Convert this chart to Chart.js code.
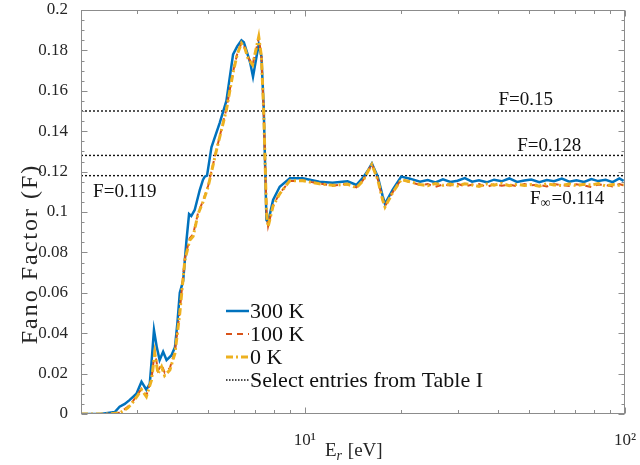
<!DOCTYPE html>
<html>
<head>
<meta charset="utf-8">
<script src="https://cdn.jsdelivr.net/npm/chart.js@4"></script>
<style>
  html, body { margin: 0; padding: 0; background: #fff; }
  #wrap { width: 640px; height: 465px; position: relative; }
</style>
</head>
<body>
<div id="wrap"><canvas id="fano"></canvas></div>
<script>
// recoil energy (eV) and Fano factor, 300 K
var e300 = [2.0, 2.3, 2.55, 2.64, 2.74, 2.84, 2.98, 3.09, 3.20, 3.28, 3.33, 3.38, 3.45, 3.52, 3.61, 3.70,
  3.83, 3.93, 4.00, 4.07, 4.17, 4.27, 4.35, 4.42, 4.53, 4.70, 4.81, 4.87, 4.95, 5.11, 5.42, 5.69,
  5.97, 6.15, 6.34, 6.45, 6.57, 6.75, 6.89, 7.05, 7.18, 7.32, 7.44, 7.59, 7.68, 7.96, 8.35, 8.98,
  9.86, 11.1, 12.2, 13.1, 13.6, 14.5, 15.2, 15.8, 16.2, 16.9, 17.5, 17.8, 18.8, 20.0, 21.3, 22.9];
var f300 = [0, 0, 0.001, 0.0036, 0.005, 0.007, 0.010, 0.016, 0.012, 0.015, 0.028, 0.0416, 0.033, 0.0267, 0.0308, 0.0267,
  0.029, 0.033, 0.045, 0.060, 0.066, 0.086, 0.099, 0.098, 0.101, 0.111, 0.116, 0.1175, 0.118, 0.132, 0.144, 0.155,
  0.178, 0.182, 0.185, 0.184, 0.180, 0.174, 0.167, 0.176, 0.183, 0.177, 0.152, 0.096, 0.095, 0.106, 0.1125, 0.1167,
  0.1167, 0.1150, 0.1145, 0.1150, 0.1152, 0.1134, 0.1170, 0.1210, 0.1240, 0.1175, 0.1080, 0.1040, 0.1110, 0.1175, 0.1165, 0.1150];

// 100 K and 0 K share the same energy grid
var eCold = [2.0, 2.4, 2.64, 2.80, 2.91, 3.00, 3.09, 3.20, 3.32, 3.40, 3.48, 3.57, 3.65, 3.79,
  3.93, 4.00, 4.07, 4.22, 4.37, 4.48, 4.64, 4.81, 4.99, 5.30, 5.69, 5.97, 6.15, 6.34,
  6.50, 6.65, 6.87, 7.05, 7.18, 7.32, 7.44, 7.59, 7.68, 7.96, 8.35, 8.98, 9.86, 11.1,
  12.2, 13.1, 13.6, 14.5, 15.2, 15.8, 16.2, 16.9, 17.5, 17.8, 18.8, 20.0, 21.3, 22.9];
var f100 = [0, 0, 0.0006, 0.0035, 0.0065, 0.0095, 0.0125, 0.0092, 0.0172, 0.031, 0.0215, 0.0245, 0.0205, 0.0228,
  0.031, 0.041, 0.051, 0.077, 0.087, 0.089, 0.0995, 0.1055, 0.113, 0.131, 0.151, 0.1695, 0.1782, 0.1838,
  0.1812, 0.1765, 0.173, 0.1805, 0.1862, 0.1772, 0.1505, 0.1005, 0.093, 0.1032, 0.1093, 0.1153, 0.1156, 0.1141,
  0.1130, 0.1137, 0.1136, 0.1122, 0.1157, 0.1207, 0.1238, 0.1162, 0.1062, 0.1028, 0.1097, 0.1162, 0.1148, 0.1134];
var f0 = [0, 0, 0.0005, 0.003, 0.006, 0.009, 0.012, 0.0086, 0.0168, 0.030, 0.020, 0.0234, 0.019, 0.0218,
  0.030, 0.040, 0.050, 0.076, 0.086, 0.088, 0.099, 0.105, 0.1125, 0.1307, 0.1505, 0.169, 0.178, 0.1835,
  0.181, 0.176, 0.1728, 0.181, 0.1868, 0.177, 0.150, 0.100, 0.0927, 0.103, 0.109, 0.1155, 0.1155, 0.1140,
  0.1132, 0.1135, 0.1138, 0.1120, 0.1155, 0.1205, 0.1235, 0.1160, 0.1060, 0.1025, 0.1095, 0.1160, 0.1150, 0.1136];

// high energy tail (all three temperatures)
var eTail = [24.2, 25.6, 27.0, 28.5, 30.0, 31.6, 33.3, 35.0, 37.0, 39.0, 41.2, 43.5, 46.0, 48.5,
  51.0, 54.0, 57.0, 60.0, 63.5, 67.0, 70.5, 74.5, 78.5, 82.5, 87.0, 91.5, 96.0, 99.0];
var fTail300 = [0.1158, 0.1146, 0.1162, 0.1149, 0.1155, 0.1168, 0.1150, 0.1157, 0.1147, 0.1160, 0.1152, 0.1166, 0.1149, 0.1156,
  0.1161, 0.1148, 0.1158, 0.1152, 0.1165, 0.1150, 0.1157, 0.1149, 0.1163, 0.1153, 0.1159, 0.1148, 0.1166, 0.1154];
var fTail100 = [0.1138, 0.1125, 0.1136, 0.1131, 0.1140, 0.1127, 0.1135, 0.1139, 0.1124, 0.1137, 0.1130, 0.1136, 0.1128, 0.1138,
  0.1132, 0.1135, 0.1126, 0.1139, 0.1133, 0.1129, 0.1137, 0.1131, 0.1124, 0.1136, 0.1134, 0.1127, 0.1138, 0.1132];
var fTail0 = [0.1130, 0.1141, 0.1132, 0.1138, 0.1129, 0.1140, 0.1134, 0.1127, 0.1139, 0.1133, 0.1142, 0.1130, 0.1137, 0.1131,
  0.1136, 0.1128, 0.1140, 0.1134, 0.1131, 0.1139, 0.1130, 0.1137, 0.1133, 0.1141, 0.1129, 0.1136, 0.1132, 0.1135];

var seriesNames = ["300 K", "100 K", "0 K"];
var refLevels = [0.15, 0.128, 0.118];
var refLabels = ["F=0.15", "F=0.128", "F=0.119"];
var fInfLabel = "=0.114";
var refName = "Select entries from Table I";
var yTitle = "Fano Factor (F)";

var xTickValues = [2, 3, 4, 5, 6, 7, 8, 9, 10, 20, 30, 40, 50, 60, 70, 80, 90, 100];
var xTickLabels = { 10: "10\u00b9", 100: "10\u00b2" };

var SERIF = "'Liberation Serif', 'DejaVu Serif', serif";
var INK = "#262626";

function pts(xs, ys) {
  return xs.map(function(e, i) { return { x: e, y: ys[i] }; });
}

var datasets = [
  { label: seriesNames[0], data: pts(e300.concat(eTail), f300.concat(fTail300)),
    borderColor: "#0072BD", borderWidth: 2.5, order: 2 },
  { label: seriesNames[1], data: pts(eCold.concat(eTail), f100.concat(fTail100)),
    borderColor: "#D95319", borderWidth: 2, borderDash: [6, 5], order: 1 },
  { label: seriesNames[2], data: pts(eCold.concat(eTail), f0.concat(fTail0)),
    borderColor: "#EDB120", borderWidth: 3, borderDash: [7, 3, 2, 3], order: 0 }
];
refLevels.forEach(function(lvl, i) {
  datasets.push({ label: i === 0 ? refName : "", data: [{ x: 2, y: lvl }, { x: 100, y: lvl }],
    borderColor: "#111", borderWidth: 1.4, borderDash: [2, 2], order: 3 });
});
datasets.forEach(function(d) { d.pointRadius = 0; d.fill = false; d.tension = 0; });

// box, inward ticks, text labels and in-plot legend
var decor = {
  id: "decor",
  afterDraw: function(chart) {
    var ctx = chart.ctx, a = chart.chartArea, x = chart.scales.x, y = chart.scales.y;
    ctx.save();
    ctx.strokeStyle = "#8c8c8c";
    ctx.lineWidth = 1;
    var L = Math.round(a.left) + 0.5, R = Math.round(a.right) - 0.5;
    var T = Math.round(a.top) + 0.5, B = Math.round(a.bottom) - 0.5;
    ctx.strokeRect(L, T, R - L, B - T);
    ctx.beginPath();
    xTickValues.forEach(function(v) {
      var px = Math.round(x.getPixelForValue(v)) + 0.5;
      var len = (v === 10 || v === 100) ? 6 : 3.5;
      ctx.moveTo(px, B); ctx.lineTo(px, B - len);
      ctx.moveTo(px, T); ctx.lineTo(px, T + len);
    });
    for (var k = 0; k <= 40; k++) {
      var py = Math.round(y.getPixelForValue(k * 0.005)) + 0.5;
      var ln = (k % 4 === 0) ? 6 : 3;
      ctx.moveTo(L, py); ctx.lineTo(L + ln, py);
      ctx.moveTo(R, py); ctx.lineTo(R - ln, py);
    }
    ctx.stroke();

    // reference labels
    ctx.fillStyle = "#111";
    ctx.font = "19px " + SERIF;
    ctx.textBaseline = "middle";
    ctx.textAlign = "center";
    ctx.fillText(refLabels[0], x.getPixelForValue(49), y.getPixelForValue(refLevels[0]) - 11);
    ctx.fillText(refLabels[1], x.getPixelForValue(58), y.getPixelForValue(refLevels[1]) - 9);
    ctx.fillText(refLabels[2], x.getPixelForValue(2.74), y.getPixelForValue(refLevels[2]) + 16);
    // F_inf label
    ctx.textAlign = "left";
    var fx = 530, fy = y.getPixelForValue(0.1065);
    ctx.fillText("F", fx, fy);
    var fw = ctx.measureText("F").width;
    ctx.font = "14px " + SERIF;
    ctx.fillText("\u221e", fx + fw, fy + 4);
    var iw = ctx.measureText("\u221e").width;
    ctx.font = "19px " + SERIF;
    ctx.fillText(fInfLabel, fx + fw + iw + 1, fy);

    // x axis title E_r [eV]
    ctx.fillStyle = INK;
    var tx = 325, ty = 451;
    ctx.fillText("E", tx, ty);
    var ew = ctx.measureText("E").width;
    ctx.font = "italic 14px " + SERIF;
    ctx.fillText("r", tx + ew, ty + 5);
    var rw = ctx.measureText("r").width;
    ctx.font = "19px " + SERIF;
    ctx.fillText(" [eV]", tx + ew + rw + 1, ty);

    // y axis title
    ctx.save();
    ctx.translate(31, 254);
    ctx.rotate(-Math.PI / 2);
    ctx.textAlign = "center";
    ctx.font = "24px " + SERIF;
    ctx.letterSpacing = "2px";
    ctx.fillText(yTitle, 0, 0);
    ctx.restore();

    // legend
    var lx0 = 226, lx1 = 249, rows = [311, 334, 357, 380];
    var legendSets = [datasets[0], datasets[1], datasets[2], datasets[3]];
    ctx.font = "22px " + SERIF;
    ctx.textAlign = "left";
    ctx.textBaseline = "middle";
    legendSets.forEach(function(d, i) {
      ctx.strokeStyle = d.borderColor;
      ctx.lineWidth = d.borderWidth;
      ctx.setLineDash(i === 3 ? [1.5, 1.5] : (d.borderDash || []));
      ctx.beginPath();
      ctx.moveTo(lx0, rows[i]); ctx.lineTo(lx1, rows[i]);
      ctx.stroke();
      ctx.setLineDash([]);
      ctx.fillStyle = "#111";
      ctx.fillText(d.label, lx1 + 1, rows[i] + 1);
    });
    ctx.restore();
  }
};

function noOverhang(s) {
  s.paddingLeft = 0; s.paddingRight = 0; s.paddingTop = 0; s.paddingBottom = 0;
}

new Chart("fano", {
  type: "line",
  data: { datasets: datasets },
  options: {
    responsive: true,
    maintainAspectRatio: false,
    animation: false,
    layout: { padding: { left: 0, right: 15, top: 10, bottom: 0 } },
    plugins: { legend: { display: false }, tooltip: { enabled: false } },
    scales: {
      x: {
        type: "logarithmic", min: 2, max: 100,
        grid: { display: false }, border: { display: false },
        afterBuildTicks: function(s) { s.ticks = xTickValues.map(function(v) { return { value: v }; }); },
        afterFit: function(s) { s.height = 51; noOverhang(s); },
        ticks: {
          autoSkip: false, maxRotation: 0, padding: 8, color: INK,
          font: { family: SERIF, size: 17 },
          callback: function(v) { return xTickLabels[v] || ""; }
        }
      },
      y: {
        min: 0, max: 0.2,
        grid: { display: false }, border: { display: false },
        afterFit: function(s) { s.width = 81; noOverhang(s); },
        ticks: {
          stepSize: 0.02, padding: 5, color: INK,
          font: { family: SERIF, size: 17 },
          callback: function(v) { return String(+v.toFixed(2)); }
        }
      }
    }
  },
  plugins: [decor]
});
</script>
</body>
</html>
